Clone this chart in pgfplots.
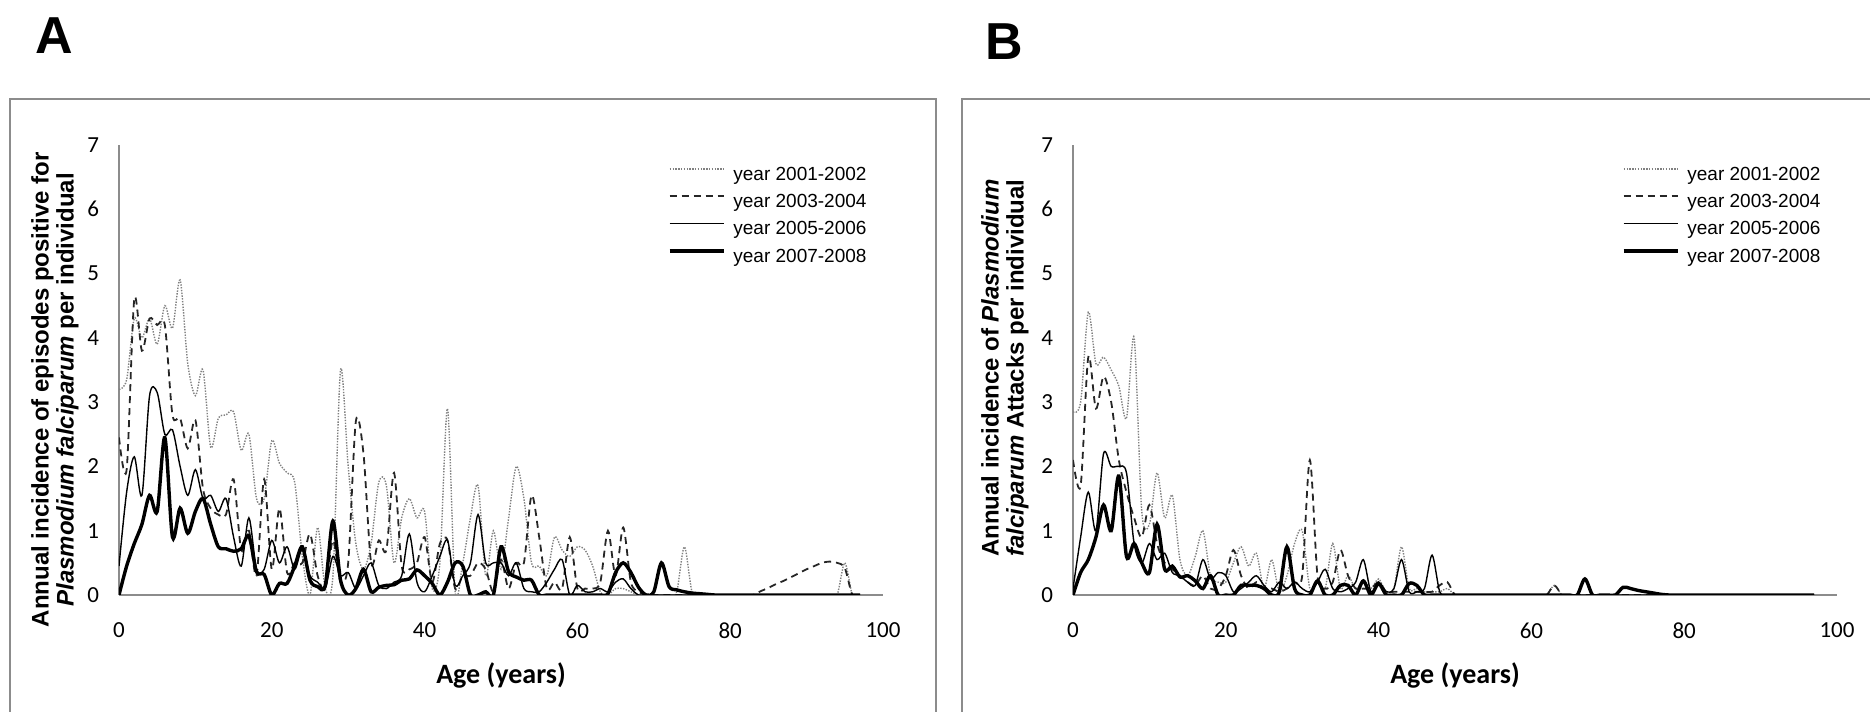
\documentclass[border=0pt]{standalone}
\usepackage{pgfplots}
\pgfplotsset{compat=1.18}
\usepackage{pgfplotstable}
\usepackage{fontspec}
\setmainfont{Liberation Sans}
\newfontfamily\calibri{Carlito}

\pgfplotstableread{
age d1 d2 d3 d4
0 3.2 2.45 0.45 0
1 3.35 1.95 1.6 0.45
2 4.3 4.6 2.15 0.8
3 4.0 3.8 1.55 1.1
4 4.3 4.3 3.1 1.55
5 3.9 4.2 3.15 1.3
6 4.5 4.2 2.5 2.45
7 4.15 2.8 2.57 0.9
8 4.9 2.75 2.0 1.35
9 3.6 2.28 1.55 0.96
10 3.1 2.72 1.95 1.3
11 3.5 1.65 1.5 1.5
12 2.3 1.35 1.55 1.1
13 2.75 1.25 1.3 0.75
14 2.8 1.25 1.5 0.72
15 2.85 1.8 0.9 0.68
16 2.25 0.7 0.45 0.72
17 2.5 1.0 1.2 0.92
18 1.5 0.3 0.4 0.36
19 1.5 1.8 0.4 0.32
20 2.4 0.4 0.85 0.0
21 2.05 1.35 0.5 0.18
22 1.9 0.35 0.75 0.18
23 1.75 0.5 0.4 0.45
24 0.6 0.5 0.72 0.75
25 0.0 0.95 0.3 0.23
26 1.05 0.3 0.2 0.13
27 0.1 0.1 0.1 0.15
28 0.3 0.85 0.6 1.15
29 3.5 0.2 0.3 0.23
30 2.0 0.5 0.35 0.0
31 0.8 2.7 0.1 0.1
32 0.4 2.2 0.3 0.4
33 0.8 0.5 0.5 0.05
34 1.75 0.85 0.15 0.12
35 1.7 0.7 0.1 0.15
36 0.5 1.9 0.2 0.16
37 1.2 0.45 0.3 0.23
38 1.5 0.4 0.95 0.25
39 1.2 0.5 0.2 0.39
40 1.3 0.9 0.05 0.3
41 0.1 0.2 0.3 0.18
42 0.5 0.8 0.6 0.0
43 2.9 0.85 0.85 0.2
44 0.05 0.1 0.15 0.5
45 0.5 0.3 0.3 0.45
46 1.2 0.3 0.5 0.0
47 1.7 0.5 1.25 0.0
48 0.3 0.4 0.5 0.05
49 1.0 0.05 0.5 0.0
50 0.4 0.55 0.5 0.75
51 1.2 0.1 0.3 0.36
52 2.0 0.5 0.5 0.28
53 1.5 0.5 0.1 0.23
54 0.5 1.55 0.05 0.23
55 0.45 0.9 0.05 0
56 0.3 0.1 0.2 0
57 0.9 0.2 0.4 0
58 0.7 0.1 0.55 0
59 0.6 0.9 0 0
60 0.75 0.1 0.15 0
61 0.7 0.1 0.05 0
62 0.45 0.1 0.05 0
63 0.05 0.2 0.1 0
64 0 1.0 0.05 0.02
65 0.1 0.3 0.2 0.35
66 0.1 1.05 0.25 0.5
67 0.05 0.2 0.1 0.35
68 0 0.05 0 0.12
69 0 0 0 0
70 0 0 0 0.05
71 0 0 0 0.5
72 0 0 0 0.13
73 0.05 0 0 0.08
74 0.75 0 0 0.05
75 0.05 0 0 0.03
76 0 0 0 0.02
77 0 0 0 0.01
78 0 0 0 0
79 0 0 0 0
80 0 0 0 0
81 0 0 0 0
82 0 0 0 0
83 0 0 0 0
84 0 0.06 0 0
85 0 0.11 0 0
86 0 0.17 0 0
87 0 0.22 0 0
88 0 0.28 0 0
89 0 0.34 0 0
90 0 0.4 0 0
91 0 0.45 0 0
92 0 0.5 0 0
93 0 0.52 0 0
94 0 0.5 0 0
95 0.5 0.42 0 0
96 0 0 0 0
97 0 0 0 0
}\tA

\pgfplotstableread{
age d1 d2 d3 d4
0 2.85 2.1 0.1 0
1 3.0 1.7 0.9 0.35
2 4.4 3.7 1.6 0.55
3 3.6 2.9 1.0 0.9
4 3.7 3.4 2.2 1.4
5 3.5 3.0 2.0 1.0
6 3.25 2.1 2.0 1.85
7 2.75 1.6 1.9 0.6
8 4.0 1.2 0.8 0.8
9 1.3 0.9 0.5 0.5
10 1.1 1.4 0.8 0.35
11 1.9 0.8 0.55 1.1
12 1.2 0.5 0.65 0.4
13 1.55 0.4 0.35 0.45
14 0.55 0.3 0.3 0.28
15 0.3 0.2 0.2 0.3
16 0.6 0.15 0.15 0.22
17 1.0 0.3 0.55 0.1
18 0.3 0.1 0.25 0.3
19 0.2 0.1 0.35 0
20 0.2 0.3 0.3 0
21 0.5 0.7 0.05 0
22 0.75 0.3 0.1 0.15
23 0.45 0.1 0.2 0.15
24 0.65 0.2 0.3 0.15
25 0.1 0.1 0.15 0.1
26 0.55 0.1 0.05 0
27 0.05 0.05 0.2 0.05
28 0.3 0.1 0.1 0.75
29 0.8 0.2 0.2 0.1
30 1.0 0.3 0.1 0
31 0.1 2.1 0.05 0
32 0.2 0.3 0.2 0.22
33 0.1 0.1 0.4 0
34 0.8 0.2 0.1 0
35 0.1 0.7 0.05 0.15
36 0.3 0.3 0.1 0.15
37 0.1 0.1 0.2 0
38 0.2 0.1 0.55 0.22
39 0.1 0.1 0.05 0
40 0.25 0.2 0.2 0.18
41 0.05 0.05 0.05 0
42 0.1 0.05 0.1 0
43 0.75 0.05 0.55 0
44 0.1 0.05 0.05 0.18
45 0.1 0.05 0.05 0.15
46 0.05 0.05 0.1 0
47 0.05 0.05 0.62 0
48 0.05 0.15 0.05 0
49 0.1 0.2 0 0
50 0 0 0 0
51 0 0 0 0
52 0 0 0 0
53 0 0 0 0
54 0 0 0 0
55 0 0 0 0
56 0 0 0 0
57 0 0 0 0
58 0 0 0 0
59 0 0 0 0
60 0 0 0 0
61 0 0 0 0
62 0 0 0 0
63 0.15 0.15 0 0
64 0 0 0 0
65 0 0 0 0
66 0 0 0 0
67 0 0 0 0.25
68 0 0 0 0
69 0 0 0 0
70 0 0 0 0
71 0 0 0 0
72 0 0 0 0.12
73 0 0 0 0.1
74 0 0 0 0.07
75 0 0 0 0.05
76 0 0 0 0.03
77 0 0 0 0.01
78 0 0 0 0
79 0 0 0 0
80 0 0 0 0
81 0 0 0 0
82 0 0 0 0
83 0 0 0 0
84 0 0 0 0
85 0 0 0 0
86 0 0 0 0
87 0 0 0 0
88 0 0 0 0
89 0 0 0 0
90 0 0 0 0
91 0 0 0 0
92 0 0 0 0
93 0 0 0 0
94 0 0 0 0
95 0 0 0 0
96 0 0 0 0
97 0 0 0 0
}\tB

\pgfplotsset{
  panel/.style={
    scale only axis, width=382pt, height=225pt,
    xmin=0, xmax=100, ymin=0, ymax=7,
    axis lines=left,
    axis line style={-, draw=black!45, line width=0.6pt},
    xtick={0,20,...,100}, ytick={0,1,...,7},
    major tick length=0pt,
    /pgf/number format/assume math mode=true,
    tick label style={font=\calibri\fontsize{11.5}{13}\selectfont},
    yticklabel style={xshift=-6.5pt},
    xticklabel style={yshift=-10.5pt},
    every axis x label/.style={at={(rel axis cs:0.5,-0.178)}, anchor=center,
      font=\calibri\bfseries\fontsize{14}{16}\selectfont},
    xlabel={Age (years)},
    legend style={at={(rel axis cs:0.7186,0.962)}, anchor=north west,
      draw=none, fill=none, inner sep=0pt, outer sep=0pt,
      font=\fontsize{9.5}{11}\selectfont, row sep=0pt, cells={anchor=west},
      nodes={inner xsep=0pt, inner ysep=0pt, text height=9pt, text depth=4.7pt},
      /tikz/every odd column/.append style={column sep=4pt}},
    legend image code/.code={\draw[#1] (0pt,3.4pt) -- (27pt,3.4pt);},
  },
  s1/.style={black!50, line width=0.7pt, dash pattern=on 0.7pt off 0.7pt, smooth, no marks},
  s2/.style={black!85, line width=0.9pt, dash pattern=on 3.5pt off 2.5pt, smooth, no marks},
  s3/.style={black, line width=0.7pt, smooth, no marks},
  s4/.style={black, line width=1.7pt, smooth, no marks},
}

\begin{document}
\begin{tikzpicture}
\useasboundingbox (0,0) rectangle (935pt,356pt);
\draw[black!45, line width=0.75pt] (5pt,-10pt) -- (5pt,306.5pt) -- (468pt,306.5pt) -- (468pt,-10pt);
\draw[black!45, line width=0.75pt] (481pt,-10pt) -- (481pt,306.5pt) -- (945pt,306.5pt);
\node[font=\bfseries\fontsize{26}{30}\selectfont] at (27pt,338pt) {A};
\node[font=\bfseries\fontsize{26}{30}\selectfont] at (502pt,335pt) {B};

\begin{axis}[panel, at={(59.5pt,58.5pt)}, anchor=south west,
  every axis y label/.style={at={(rel axis cs:-0.0838,0.456)}, rotate=90, anchor=center, align=center,
    font=\bfseries\fontsize{12}{12.5}\selectfont},
  ylabel={Annual incidence of episodes positive for\\\textit{Plasmodium falciparum} per individual}]
\addplot[s1] table[x=age,y=d1] {\tA};
\addplot[s2] table[x=age,y=d2] {\tA};
\addplot[s3] table[x=age,y=d3] {\tA};
\addplot[s4] table[x=age,y=d4] {\tA};
\legend{year 2001-2002, year 2003-2004, year 2005-2006, year 2007-2008}
\end{axis}

\begin{axis}[panel, at={(536.5pt,58.5pt)}, anchor=south west,
  every axis y label/.style={at={(rel axis cs:-0.089,0.504)}, rotate=90, anchor=center, align=center,
    font=\bfseries\fontsize{12}{12.5}\selectfont},
  ylabel={Annual incidence of \textit{Plasmodium}\\\textit{falciparum} Attacks per individual}]
\addplot[s1] table[x=age,y=d1] {\tB};
\addplot[s2] table[x=age,y=d2] {\tB};
\addplot[s3] table[x=age,y=d3] {\tB};
\addplot[s4] table[x=age,y=d4] {\tB};
\legend{year 2001-2002, year 2003-2004, year 2005-2006, year 2007-2008}
\end{axis}
\end{tikzpicture}
\end{document}
